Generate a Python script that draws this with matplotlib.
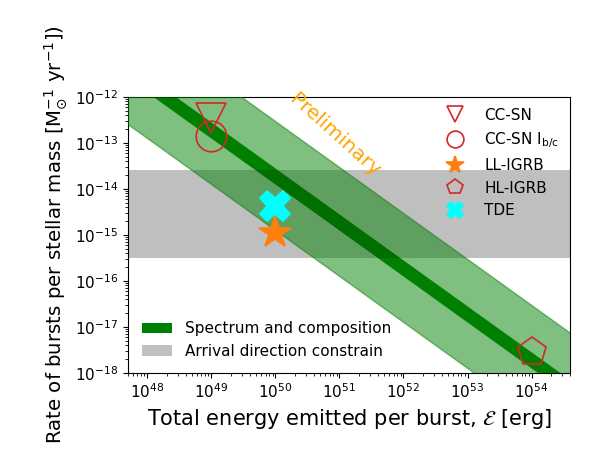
import numpy as np
import matplotlib.pyplot as plt

# band limits: rate * energy = const  [erg / (Msun yr)]
spec_band = [10**36.1, 10**36.45]
spec_wide = [10**35.1, 10**37.47]
# arrival direction constraint on rate
arrival_band = [3.2e-16, 2.6e-14]

# source classes
src_names = ['CC-SN', 'CC-SN I$_{\\rm b/c}$', 'LL-IGRB', 'HL-IGRB', 'TDE']
src_E = [1e49, 1e49, 1e50, 1e54, 1e50]
src_rate = [3.5e-13, 1.4e-13, 1.1e-15, 2.9e-18, 4.2e-15]
src_marker = ['v', 'o', '*', 'p', 'X']
src_color = ['tab:red', 'tab:red', 'tab:orange', 'tab:red', 'cyan']
src_fill = [False, False, True, False, True]
src_size = [22, 22, 24, 21, 22]

fig = plt.figure(figsize=(6.13, 4.62), dpi=100)
ax = fig.add_axes([0.209, 0.193, 0.721, 0.597])

E = np.logspace(47, 55, 200)
ax.fill_between(E, spec_band[0] / E, spec_band[1] / E, color='green', lw=0,
                label='Spectrum and composition', zorder=1)
ax.axhspan(arrival_band[0], arrival_band[1], color='k', alpha=0.25, lw=0,
           label='Arrival direction constrain', zorder=2)
ax.fill_between(E, spec_wide[0] / E, spec_wide[1] / E, color='green', alpha=0.5,
                lw=1, zorder=3)

handles = []
for n, e, r, m, c, f, s in zip(src_names, src_E, src_rate, src_marker, src_color, src_fill, src_size):
    h, = ax.plot([e], [r], ls='none', marker=m, ms=s, color=c,
                 mfc=c if f else 'none', mec=c, mew=1.2, label=n, zorder=5)
    handles.append(h)

ax.set_xscale('log')
ax.set_yscale('log')
ax.set_xlim(5e47, 4e54)
ax.set_ylim(1e-18, 1e-12)
ax.tick_params(labelsize=11)

ax.text(8.5e50, 1.45e-13, 'Preliminary', color='orange', fontsize=14.5,
        rotation=-42, ha='center', va='center', zorder=6)

leg1 = ax.legend(handles=handles, loc='upper right', frameon=False,
                 markerscale=0.55, fontsize=11, handletextpad=0.9,
                 borderaxespad=0.3)
ax.add_artist(leg1)
bands = ax.get_legend_handles_labels()
ax.legend(bands[0][:2], bands[1][:2], loc='lower left', frameon=False, fontsize=11)

ax.set_xlabel('Total energy emitted per burst, $\\mathcal{E}$ [erg]', fontsize=15)
ax.set_ylabel('Rate of bursts per stellar mass [M$_{\\odot}^{-1}$ yr$^{-1}$])', fontsize=14.2)

fig.savefig('out.png', dpi=100)
